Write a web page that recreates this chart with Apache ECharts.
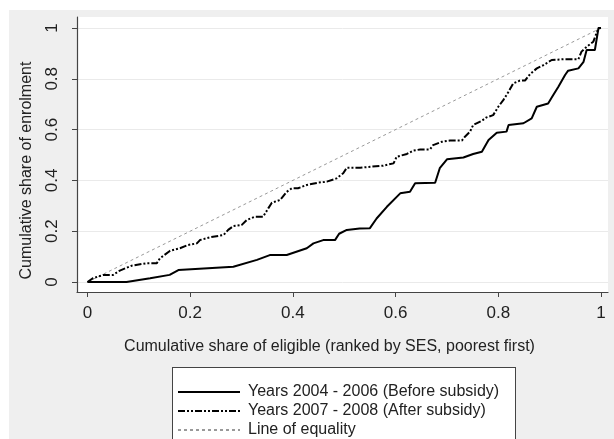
<!DOCTYPE html>
<html>
<head>
<meta charset="utf-8">
<script src="https://cdn.jsdelivr.net/npm/echarts@6/dist/echarts.min.js"></script>
<style>
html,body{margin:0;padding:0;background:#fff;}
#bg{position:absolute;left:9px;top:10px;width:605px;height:429px;background:#efefef;}
#plot{position:absolute;left:77px;top:17px;width:531px;height:275px;background:#fff;}
#lg{position:absolute;left:172px;top:367px;width:344px;height:90px;background:#fff;border:1px solid #444;box-sizing:border-box;}
#c{position:absolute;left:0;top:0;width:614px;height:439px;}
</style>
</head>
<body>
<div id="bg"></div>
<div id="plot"></div>
<div id="lg"></div>
<div id="c"></div>
<script>
// Data
const beforeX = [0, 0.076, 0.122, 0.16, 0.177, 0.284, 0.33, 0.355, 0.388, 0.427, 0.44, 0.459, 0.482, 0.49, 0.505, 0.53, 0.55, 0.563, 0.583, 0.609, 0.628, 0.638, 0.677, 0.686, 0.70, 0.732, 0.751, 0.768, 0.781, 0.797, 0.816, 0.82, 0.849, 0.865, 0.875, 0.897, 0.907, 0.917, 0.93, 0.936, 0.956, 0.966, 0.972, 0.988, 0.995, 1];
const beforeY = [0, 0, 0.015, 0.028, 0.047, 0.06, 0.087, 0.106, 0.106, 0.133, 0.152, 0.165, 0.165, 0.19, 0.205, 0.211, 0.212, 0.25, 0.296, 0.349, 0.355, 0.389, 0.391, 0.448, 0.483, 0.49, 0.504, 0.513, 0.559, 0.588, 0.592, 0.618, 0.625, 0.644, 0.69, 0.703, 0.736, 0.769, 0.815, 0.832, 0.841, 0.867, 0.913, 0.913, 0.999, 1];
const afterX = [0, 0.011, 0.031, 0.05, 0.063, 0.086, 0.115, 0.135, 0.141, 0.161, 0.18, 0.196, 0.213, 0.219, 0.239, 0.265, 0.274, 0.284, 0.30, 0.31, 0.326, 0.342, 0.352, 0.359, 0.375, 0.388, 0.398, 0.41, 0.427, 0.449, 0.466, 0.485, 0.498, 0.505, 0.531, 0.576, 0.596, 0.602, 0.622, 0.634, 0.648, 0.667, 0.673, 0.69, 0.706, 0.729, 0.735, 0.745, 0.751, 0.768, 0.777, 0.79, 0.80, 0.81, 0.82, 0.829, 0.842, 0.852, 0.862, 0.875, 0.888, 0.904, 0.927, 0.956, 0.962, 0.972, 0.985, 0.995, 1];
const afterY = [0, 0.015, 0.028, 0.028, 0.045, 0.064, 0.074, 0.074, 0.093, 0.123, 0.133, 0.146, 0.152, 0.165, 0.176, 0.185, 0.205, 0.22, 0.224, 0.244, 0.257, 0.257, 0.29, 0.312, 0.323, 0.355, 0.369, 0.369, 0.382, 0.391, 0.395, 0.408, 0.428, 0.45, 0.45, 0.458, 0.467, 0.493, 0.504, 0.517, 0.522, 0.522, 0.539, 0.552, 0.557, 0.557, 0.572, 0.592, 0.618, 0.635, 0.648, 0.657, 0.69, 0.717, 0.749, 0.782, 0.793, 0.793, 0.819, 0.841, 0.854, 0.874, 0.877, 0.877, 0.907, 0.926, 0.946, 1.0, 1];
const equalX = [0, 1];
const equalY = [0, 1];
const tickValues = [0, 0.2, 0.4, 0.6, 0.8, 1];
const seriesNames = ['Years 2004 - 2006 (Before subsidy)', 'Years 2007 - 2008 (After subsidy)', 'Line of equality'];

const zip = (xs, ys) => xs.map((x, i) => [x, ys[i]]);
const fmt = v => (Math.abs(v) < 1e-9 ? '0' : String(+v.toFixed(1)));
const FONT = '"Liberation Sans", Arial, sans-serif';

const chart = echarts.init(document.getElementById('c'), null, {renderer: 'canvas'});
chart.setOption({
  backgroundColor: 'transparent',
  animation: false,
  grid: {left: 77, top: 17, width: 531, height: 275, containLabel: false},
  xAxis: {
    type: 'value', min: -0.0204, max: 1.0136,
    axisLine: {show: true, onZero: false, lineStyle: {color: '#444', width: 1.2}},
    axisTick: {show: true, length: 5, customValues: tickValues, lineStyle: {color: '#444'}},
    axisLabel: {customValues: tickValues, formatter: fmt, margin: 13, fontSize: 17, color: '#222', fontFamily: FONT},
    splitLine: {show: false},
    name: 'Cumulative share of eligible (ranked by SES, poorest first)',
    nameLocation: 'middle', nameGap: 47,
    nameTextStyle: {fontSize: 16, color: '#222', fontFamily: FONT, verticalAlign: 'top', padding: [0, 26, 0, 0]}
  },
  yAxis: {
    type: 'value', min: -0.0394, max: 1.0433,
    axisLine: {show: true, onZero: false, lineStyle: {color: '#444', width: 1.2}},
    axisTick: {show: true, length: 5, customValues: tickValues, lineStyle: {color: '#444'}},
    axisLabel: {customValues: tickValues, formatter: fmt, rotate: 90, margin: 16, fontSize: 17, color: '#222', fontFamily: FONT},
    splitLine: {show: true, lineStyle: {color: '#eaeaea', width: 1}},
    name: 'Cumulative share of enrolment',
    nameLocation: 'middle', nameGap: 42,
    nameTextStyle: {fontSize: 16, color: '#222', fontFamily: FONT, padding: [0, 32, 0, 0]}
  },
  legend: {
    orient: 'vertical', left: 177, top: 384, padding: 0, height: 90, width: 340,
    itemWidth: 62, itemHeight: 14, itemGap: 3,
    itemStyle: {opacity: 0},
    textStyle: {fontSize: 16, color: '#222', fontFamily: FONT, lineHeight: 14, padding: [0, 0, 0, 3]},
    data: seriesNames
  },
  series: [
    {name: seriesNames[0], type: 'line', data: zip(beforeX, beforeY), symbol: 'none',
     lineStyle: {color: '#000', width: 2}, itemStyle: {color: '#000'}, z: 3},
    {name: seriesNames[1], type: 'line', data: zip(afterX, afterY), symbol: 'none',
     lineStyle: {color: '#000', width: 2, type: [7, 2, 2, 2, 2, 2]}, itemStyle: {color: '#000'}, z: 3},
    {name: seriesNames[2], type: 'line', data: zip(equalX, equalY), symbol: 'none',
     lineStyle: {color: '#999', width: 1, type: [3, 3]}, itemStyle: {color: '#999'}, z: 2}
  ]
});
</script>
</body>
</html>
